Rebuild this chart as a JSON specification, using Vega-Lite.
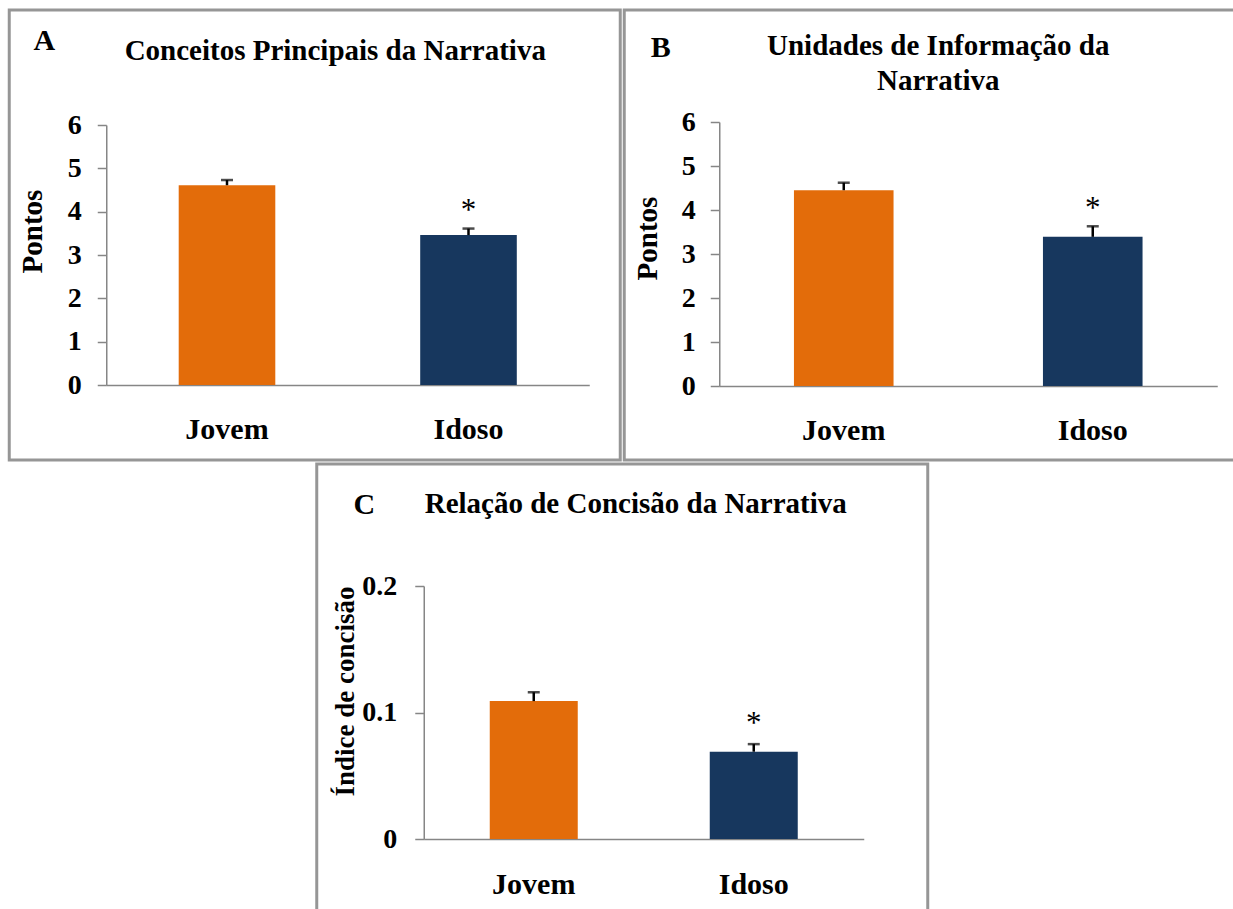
{
  "$schema": "https://vega.github.io/schema/vega-lite/v6.json",
  "background": "white",
  "padding": {"left": 7, "top": 8, "right": 0, "bottom": 0},
  "datasets": {
    "A": [
      {"grupo": "Jovem", "media": 4.61, "sup": 4.73, "sig": ""},
      {"grupo": "Idoso", "media": 3.46, "sup": 3.61, "sig": "*"}
    ],
    "B": [
      {"grupo": "Jovem", "media": 4.45, "sup": 4.62, "sig": ""},
      {"grupo": "Idoso", "media": 3.39, "sup": 3.63, "sig": "*"}
    ],
    "C": [
      {"grupo": "Jovem", "media": 0.109, "sup": 0.116, "sig": ""},
      {"grupo": "Idoso", "media": 0.069, "sup": 0.075, "sig": "*"}
    ]
  },
  "spacing": 0,
  "center": true,
  "vconcat": [
    {
      "spacing": 0,
      "hconcat": [
        {
          "width": 611, "height": 450,
          "data": {"name": "A"},
          "title": {"text": "Conceitos Principais da Narrativa", "dx": 20.5, "dy": 59.5},
          "resolve": {"axis": {"x": "independent", "y": "independent"}},
          "layer": [
            {"mark": {"type": "bar"},
             "encoding": {
               "x": {"field": "grupo", "type": "nominal", "sort": null,
                     "scale": {"domain": ["Jovem", "Idoso"], "range": [97, 580], "paddingInner": 0.6, "paddingOuter": 0.3},
                     "axis": {"orient": "bottom", "title": null, "offset": -75, "ticks": false, "tickSize": 0, "labelAngle": 0, "labelFontSize": 30, "labelBaseline": "alphabetic", "labelPadding": 53}},
               "y": {"field": "media", "type": "quantitative",
                     "scale": {"domain": [0, 6], "range": [375, 115], "nice": false},
                     "axis": {"orient": "left", "title": "Pontos", "offset": -97, "values": [0, 1, 2, 3, 4, 5, 6], "tickSize": 9, "labelFontSize": 28, "labelPadding": 16, "titleFontSize": 29, "titleX": -74, "titleY": 221, "titleAngle": -90, "titleAlign": "center", "titleBaseline": "middle"}},
               "color": {"field": "grupo", "type": "nominal", "scale": {"domain": ["Jovem", "Idoso"], "range": ["#E36C0A", "#17375E"]}, "legend": null}
             }},
            {"mark": {"type": "rule", "color": "#000000", "strokeWidth": 2.5},
             "encoding": {
               "x": {"field": "grupo", "type": "nominal", "sort": null, "scale": {"domain": ["Jovem", "Idoso"], "range": [97, 580], "paddingInner": 0.6, "paddingOuter": 0.3}, "axis": null},
               "y": {"field": "media", "type": "quantitative", "scale": {"domain": [0, 6], "range": [375, 115], "nice": false}, "axis": null},
               "y2": {"field": "sup"}
             }},
            {"mark": {"type": "tick", "color": "#000000", "thickness": 2.5, "size": 12, "orient": "horizontal"},
             "encoding": {
               "x": {"field": "grupo", "type": "nominal", "sort": null, "scale": {"domain": ["Jovem", "Idoso"], "range": [97, 580], "paddingInner": 0.6, "paddingOuter": 0.3}, "axis": null},
               "y": {"field": "sup", "type": "quantitative", "scale": {"domain": [0, 6], "range": [375, 115], "nice": false}, "axis": null}
             }},
            {"mark": {"type": "text", "font": "Liberation Serif", "fontSize": 31, "baseline": "alphabetic", "dy": -9, "color": "#000000"},
             "encoding": {
               "x": {"field": "grupo", "type": "nominal", "sort": null, "scale": {"domain": ["Jovem", "Idoso"], "range": [97, 580], "paddingInner": 0.6, "paddingOuter": 0.3},
                     "axis": {"orient": "top", "title": "A", "labels": false, "ticks": false, "domain": false, "titleX": 34.5, "titleY": 39, "titleAlign": "center", "titleBaseline": "alphabetic", "titleFontSize": 30, "titleAngle": 0}},
               "y": {"field": "sup", "type": "quantitative", "scale": {"domain": [0, 6], "range": [375, 115], "nice": false}, "axis": null},
               "text": {"field": "sig"}
             }}
          ]
        },
        {
          "width": 611, "height": 450,
          "data": {"name": "B"},
          "title": {"text": ["Unidades de Informação da", "Narrativa"], "lineHeight": 35, "dx": 8.5, "dy": 89.5},
          "resolve": {"axis": {"x": "independent", "y": "independent"}},
          "layer": [
            {"mark": {"type": "bar"},
             "encoding": {
               "x": {"field": "grupo", "type": "nominal", "sort": null,
                     "scale": {"domain": ["Jovem", "Idoso"], "range": [95, 593], "paddingInner": 0.6, "paddingOuter": 0.3},
                     "axis": {"orient": "bottom", "title": null, "offset": -74, "ticks": false, "tickSize": 0, "labelAngle": 0, "labelFontSize": 30, "labelBaseline": "alphabetic", "labelPadding": 53}},
               "y": {"field": "media", "type": "quantitative",
                     "scale": {"domain": [0, 6], "range": [376, 112], "nice": false},
                     "axis": {"orient": "left", "title": "Pontos", "offset": -95, "values": [0, 1, 2, 3, 4, 5, 6], "tickSize": 9, "labelFontSize": 28, "labelPadding": 15, "titleFontSize": 29, "titleX": -72, "titleY": 228, "titleAngle": -90, "titleAlign": "center", "titleBaseline": "middle"}},
               "color": {"field": "grupo", "type": "nominal", "scale": {"domain": ["Jovem", "Idoso"], "range": ["#E36C0A", "#17375E"]}, "legend": null}
             }},
            {"mark": {"type": "rule", "color": "#000000", "strokeWidth": 2.5},
             "encoding": {
               "x": {"field": "grupo", "type": "nominal", "sort": null, "scale": {"domain": ["Jovem", "Idoso"], "range": [95, 593], "paddingInner": 0.6, "paddingOuter": 0.3}, "axis": null},
               "y": {"field": "media", "type": "quantitative", "scale": {"domain": [0, 6], "range": [376, 112], "nice": false}, "axis": null},
               "y2": {"field": "sup"}
             }},
            {"mark": {"type": "tick", "color": "#000000", "thickness": 2.5, "size": 12, "orient": "horizontal"},
             "encoding": {
               "x": {"field": "grupo", "type": "nominal", "sort": null, "scale": {"domain": ["Jovem", "Idoso"], "range": [95, 593], "paddingInner": 0.6, "paddingOuter": 0.3}, "axis": null},
               "y": {"field": "sup", "type": "quantitative", "scale": {"domain": [0, 6], "range": [376, 112], "nice": false}, "axis": null}
             }},
            {"mark": {"type": "text", "font": "Liberation Serif", "fontSize": 31, "baseline": "alphabetic", "dy": -8, "color": "#000000"},
             "encoding": {
               "x": {"field": "grupo", "type": "nominal", "sort": null, "scale": {"domain": ["Jovem", "Idoso"], "range": [95, 593], "paddingInner": 0.6, "paddingOuter": 0.3},
                     "axis": {"orient": "top", "title": "B", "labels": false, "ticks": false, "domain": false, "titleX": 36, "titleY": 46, "titleAlign": "center", "titleBaseline": "alphabetic", "titleFontSize": 30, "titleAngle": 0}},
               "y": {"field": "sup", "type": "quantitative", "scale": {"domain": [0, 6], "range": [376, 112], "nice": false}, "axis": null},
               "text": {"field": "sig"}
             }}
          ]
        }
      ]
    },
    {
      "width": 611, "height": 460,
      "data": {"name": "C"},
      "title": {"text": "Relação de Concisão da Narrativa", "dx": 13.5, "dy": 58.5},
      "resolve": {"axis": {"x": "independent", "y": "independent"}},
      "layer": [
        {"mark": {"type": "bar"},
         "encoding": {
           "x": {"field": "grupo", "type": "nominal", "sort": null,
                 "scale": {"domain": ["Jovem", "Idoso"], "range": [107, 547], "paddingInner": 0.6, "paddingOuter": 0.3},
                 "axis": {"orient": "bottom", "title": null, "offset": -85, "ticks": false, "tickSize": 0, "labelAngle": 0, "labelFontSize": 30, "labelBaseline": "alphabetic", "labelPadding": 54}},
           "y": {"field": "media", "type": "quantitative",
                 "scale": {"domain": [0, 0.2], "range": [375, 122], "nice": false},
                 "axis": {"orient": "left", "title": "Índice de concisão", "offset": -107, "values": [0, 0.1, 0.2], "format": "~g", "tickSize": 9, "labelFontSize": 28, "labelPadding": 18, "titleFontSize": 27, "titleX": -78, "titleY": 227, "titleAngle": -90, "titleAlign": "center", "titleBaseline": "middle"}},
           "color": {"field": "grupo", "type": "nominal", "scale": {"domain": ["Jovem", "Idoso"], "range": ["#E36C0A", "#17375E"]}, "legend": null}
         }},
        {"mark": {"type": "rule", "color": "#000000", "strokeWidth": 2.5},
         "encoding": {
           "x": {"field": "grupo", "type": "nominal", "sort": null, "scale": {"domain": ["Jovem", "Idoso"], "range": [107, 547], "paddingInner": 0.6, "paddingOuter": 0.3}, "axis": null},
           "y": {"field": "media", "type": "quantitative", "scale": {"domain": [0, 0.2], "range": [375, 122], "nice": false}, "axis": null},
           "y2": {"field": "sup"}
         }},
        {"mark": {"type": "tick", "color": "#000000", "thickness": 2.5, "size": 12, "orient": "horizontal"},
         "encoding": {
           "x": {"field": "grupo", "type": "nominal", "sort": null, "scale": {"domain": ["Jovem", "Idoso"], "range": [107, 547], "paddingInner": 0.6, "paddingOuter": 0.3}, "axis": null},
           "y": {"field": "sup", "type": "quantitative", "scale": {"domain": [0, 0.2], "range": [375, 122], "nice": false}, "axis": null}
         }},
        {"mark": {"type": "text", "font": "Liberation Serif", "fontSize": 31, "baseline": "alphabetic", "dy": -11, "color": "#000000"},
         "encoding": {
           "x": {"field": "grupo", "type": "nominal", "sort": null, "scale": {"domain": ["Jovem", "Idoso"], "range": [107, 547], "paddingInner": 0.6, "paddingOuter": 0.3},
                 "axis": {"orient": "top", "title": "C", "labels": false, "ticks": false, "domain": false, "titleX": 47, "titleY": 49, "titleAlign": "center", "titleBaseline": "alphabetic", "titleFontSize": 30, "titleAngle": 0}},
           "y": {"field": "sup", "type": "quantitative", "scale": {"domain": [0, 0.2], "range": [375, 122], "nice": false}, "axis": null},
           "text": {"field": "sig"}
         }}
      ]
    }
  ],
  "config": {
    "view": {"stroke": "#969696", "strokeWidth": 3},
    "font": "Liberation Serif",
    "axis": {"grid": false, "domainColor": "#868686", "domainWidth": 1.5, "tickColor": "#868686", "tickWidth": 1.5,
             "labelFont": "Liberation Serif", "labelFontWeight": "bold", "labelColor": "#000000",
             "titleFont": "Liberation Serif", "titleFontWeight": "bold", "titleColor": "#000000"},
    "title": {"font": "Liberation Serif", "fontWeight": "bold", "color": "#000000", "anchor": "middle", "frame": "group", "offset": 0, "baseline": "alphabetic", "fontSize": 29}
  }
}
